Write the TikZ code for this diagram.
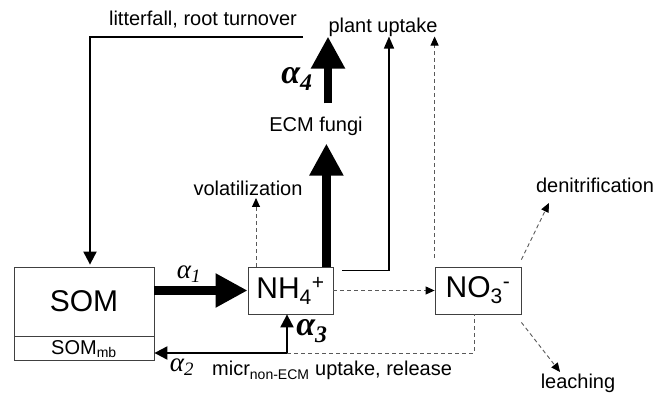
\documentclass[tikz,border=0pt]{standalone}
\usepackage{fontspec}
\setmainfont{Liberation Sans}
\newfontfamily\alphafont{Liberation Serif}
\usetikzlibrary{arrows.meta}

\tikzset{
  box/.style={draw=black!75, line width=0.8pt, inner sep=0pt, font=\fontsize{30}{30}\selectfont},
  lbl/.style={inner sep=0pt, font=\fontsize{20}{22}\selectfont},
  greek/.style={inner sep=0pt, font=\alphafont\itshape\fontsize{27}{27}\selectfont},
  greekbold/.style={inner sep=0pt, font=\alphafont\bfseries\itshape\fontsize{34}{34}\selectfont},
  bigarrow/.style={line width=8.5pt, -{Triangle[length=32pt,width=32pt]}},
  flow/.style={line width=2pt, -{Triangle[length=13pt,width=13pt]}},
  thinflow/.style={line width=1.4pt, -{Triangle[length=12pt,width=10pt]}},
  loss/.style={draw=black!65, line width=0.9pt, dash pattern=on 4pt off 3pt},
  lossarrow/.style={loss, -{Triangle[length=9pt,width=8pt,black]}}
}

\begin{document}
\begin{tikzpicture}[x=1pt, y=-1pt]
    \useasboundingbox (0,0) rectangle (670,395);

    % pools
    \node[box, minimum width=140pt, minimum height=69pt] (som) at (84,301.5) {SOM};
    \node[box, minimum width=140pt, minimum height=24pt, anchor=north, font=\fontsize{20}{20}\selectfont] (sommb) at (som.south) {SOM\textsubscript{mb}};
    \node[box, minimum width=85pt, minimum height=47pt] (nh4) at (290.5,290.5) {NH\textsubscript{4}\textsuperscript{+}};
    \node[box, minimum width=86pt, minimum height=47pt] (no3) at (478,290.5) {NO\textsubscript{3}\textsuperscript{-}};

    % labels
    \node[lbl] (litter) at (203,20) {litterfall, root turnover};
    \node[lbl] (plant) at (383,27) {plant uptake};
    \node[lbl] (ecm) at (316,126) {ECM fungi};
    \node[lbl, anchor=south] (volat) at (248,196) {volatilization};
    \node[lbl] (denit) at (595,185) {denitrification};
    \node[lbl] (leach) at (578,383) {leaching};
    \node[lbl, anchor=base west] (micr) at (212,376) {micr\textsubscript{non-ECM} uptake, release};

    % rates
    \node[greek] (a1) at (189,274) {α\textsubscript{1}};
    \node[greek] (a2) at (182,367) {α\textsubscript{2}};
    \node[greekbold] (a3) at (312,331) {α\textsubscript{3}};
    \node[greekbold] (a4) at (297,79) {α\textsubscript{4}};

    % main fluxes
    \draw[bigarrow] (som.east |- nh4.west) -- (nh4.west);
    \draw[bigarrow] ([xshift=-7pt]nh4.north east) -- ([xshift=-7pt,yshift=-8pt]nh4.north east |- ecm.south);
    \draw[bigarrow] ([xshift=12pt,yshift=13pt]ecm.north) -- ([xshift=12pt]ecm.north |- plant.south);

    % litter input
    \coordinate (litterend) at (303,37);
    \draw[flow] (litterend) -| ([xshift=6pt,yshift=2pt]som.north);

    % plant uptake from NH4
    \draw[thinflow] ([xshift=9pt,yshift=-4pt]nh4.north east) -| ([xshift=6pt]plant.south);

    % microbial uptake and release
    \coordinate (split) at (287,353);
    \draw[flow] (split) -- (som.east |- split);
    \draw[flow] (split) -- (split |- nh4.south);
    \draw[loss] (split) -- ([xshift=-4pt]no3.south |- split) -- ([xshift=-4pt]no3.south);

    % losses
    \draw[lossarrow] (nh4.east) -- (no3.west);
    \draw[lossarrow] ([xshift=-34.5pt]nh4.north) -- ([xshift=-34.5pt,yshift=-2pt]nh4.north |- volat.south);
    \draw[lossarrow] ([yshift=9pt]no3.north west) -- (no3.north west |- plant.south);
    \draw[lossarrow] ([yshift=7pt]no3.north east) -- ([xshift=13pt,yshift=-10.5pt]denit.south west);
    \draw[lossarrow] ([yshift=-8pt]no3.south east) -- ([xshift=19.5pt,yshift=1.5pt]leach.north west);

\end{tikzpicture}
\end{document}
